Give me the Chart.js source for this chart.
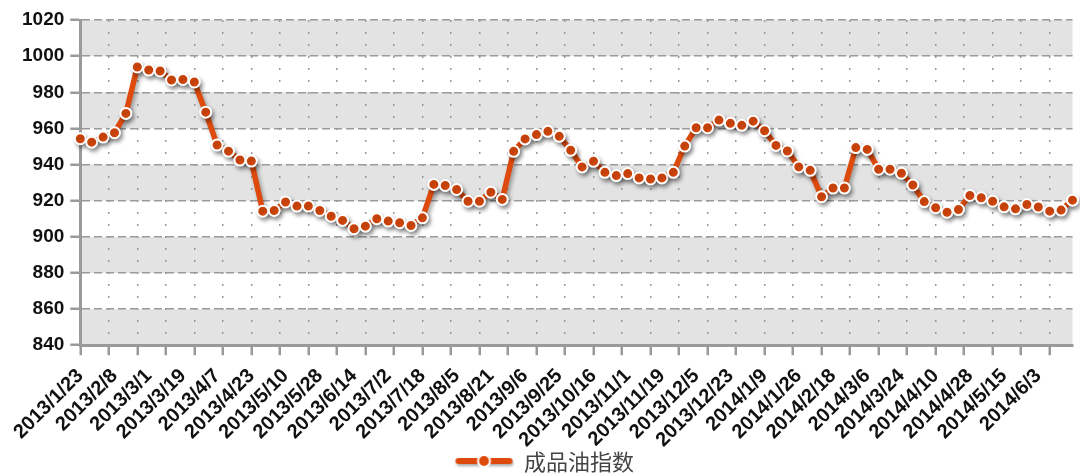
<!DOCTYPE html>
<html>
<head>
<meta charset="utf-8">
<script src="https://cdn.jsdelivr.net/npm/chart.js@4.4.1/dist/chart.umd.min.js"></script>
<style>
html,body{margin:0;padding:0;background:#fff;}
#wrap{width:1080px;height:476px;position:relative;}
</style>
</head>
<body>
<div id="wrap"><canvas id="c"></canvas></div>
<script>
// ---- data ----
const seriesName = '成品油指数';
const tickLabels = ['2013/1/23','2013/2/8','2013/3/1','2013/3/19','2013/4/7','2013/4/23','2013/5/10','2013/5/28','2013/6/14','2013/7/2','2013/7/18','2013/8/5','2013/8/21','2013/9/6','2013/9/25','2013/10/16','2013/11/1','2013/11/19','2013/12/5','2013/12/23','2014/1/9','2014/1/26','2014/2/18','2014/3/6','2014/3/24','2014/4/10','2014/4/28','2014/5/15','2014/6/3'];
const labelEvery = 3;
const values = [954.3,952.4,955.2,957.6,968.3,994.0,992.3,991.8,986.8,987.1,985.7,969.0,950.8,947.4,942.5,941.9,
914.2,914.6,919.3,917.0,917.0,914.6,911.4,909.1,904.5,905.9,910.0,908.7,907.8,906.3,
910.5,929.0,928.4,926.2,919.7,919.7,924.7,920.7,947.3,954.2,956.6,958.4,955.6,947.9,938.7,
941.8,935.7,933.9,935.0,932.6,932.0,932.6,935.7,950.2,960.4,960.4,964.6,962.8,961.7,964.0,
958.7,950.6,947.5,938.7,936.8,922.2,927.0,927.0,949.4,948.4,937.4,937.4,935.2,928.7,919.5,
916.1,913.6,915.1,922.9,921.6,919.7,916.6,915.5,917.9,916.5,914.2,914.8,920.3];
const yMin = 840, yMax = 1020, yStep = 20;
const vGridStep = 2.5;   // vertical dotted grid every 2.5 points

const lineColor = '#dd4a0c';

// legend icon (line + marker)
function makeLegendIcon(){
  const cv = document.createElement('canvas');
  cv.width = 60; cv.height = 22;
  const g = cv.getContext('2d');
  g.shadowColor = 'rgba(0,0,0,0.35)'; g.shadowBlur = 3; g.shadowOffsetX = 1; g.shadowOffsetY = 2;
  g.strokeStyle = lineColor; g.lineWidth = 6; g.lineCap = 'round';
  g.beginPath(); g.moveTo(4, 10); g.lineTo(55, 10); g.stroke();
  g.shadowColor = 'transparent';
  g.beginPath(); g.arc(29.5, 10, 6, 0, Math.PI*2);
  g.fillStyle = lineColor; g.fill();
  g.lineWidth = 2; g.strokeStyle = '#fff'; g.stroke();
  return cv;
}
const legendIcon = makeLegendIcon();

const bandsPlugin = {
  id: 'bands',
  beforeDraw(chart){
    const {ctx, chartArea:a, scales:{y}} = chart;
    ctx.save();
    ctx.fillStyle = '#e3e3e3';
    for (let v = yMin; v < yMax; v += yStep*2){
      const top = y.getPixelForValue(v + yStep), bot = y.getPixelForValue(v);
      ctx.fillRect(a.left, top, a.right - a.left, bot - top);
    }
    ctx.restore();
  }
};
const shadowPlugin = {
  id: 'lineShadow',
  beforeDatasetDraw(chart){
    const c = chart.ctx; c.save();
    c.shadowColor = 'rgba(0,0,0,0.35)'; c.shadowBlur = 4; c.shadowOffsetX = 2; c.shadowOffsetY = 3;
  },
  afterDatasetDraw(chart){ chart.ctx.restore(); }
};

const points = values.map((v,i)=>({x:i, y:v}));
const lastIdx = values.length - 1;

new Chart(document.getElementById('c'), {
  type: 'line',
  data: {
    datasets: [{
      label: seriesName,
      data: points,
      borderColor: lineColor,
      backgroundColor: lineColor,
      borderWidth: 5.5,
      tension: 0,
      pointRadius: 5.5,
      pointBorderWidth: 2,
      pointBorderColor: '#ffffff',
      pointBackgroundColor: lineColor,
      clip: false,
      xAxisID: 'x',
      yAxisID: 'y'
    }]
  },
  options: {
    responsive: true,
    maintainAspectRatio: false,
    animation: false,
    events: [],
    layout: { padding: { left: 16, right: 6, top: 20, bottom: -7 } },
    plugins: {
      tooltip: { enabled: false },
      legend: {
        display: true,
        position: 'bottom',
        labels: {
          usePointStyle: true,
          pointStyleWidth: 57,
          padding: 4,
          color: '#444',
          font: { family: '"Noto Sans CJK SC", "Noto Sans", sans-serif', size: 22 },
          generateLabels(chart){
            return [{ text: seriesName, pointStyle: legendIcon, fillStyle: lineColor, strokeStyle: lineColor, lineWidth: 0, hidden: false, datasetIndex: 0, fontColor: '#444' }];
          }
        }
      }
    },
    scales: {
      xg: {
        type: 'linear', position: 'bottom', weight: 0,
        min: 0, max: lastIdx,
        ticks: { display: false, stepSize: vGridStep, includeBounds: false, autoSkip: false },
        grid: { display: true, color: '#9a9a9a', lineWidth: 1.5, drawTicks: true, tickLength: 10, tickColor: '#9a9a9a', tickWidth: 2.5, tickBorderDash: [] },
        border: { display: true, color: '#9a9a9a', width: 3, dash: [2, 10] }
      },
      x: {
        type: 'linear', position: 'bottom', weight: 1,
        min: 0, max: lastIdx,
        grid: { display: false, drawTicks: false },
        border: { display: false },
        afterFit(scale){ scale.height -= 14; },
        ticks: {
          stepSize: labelEvery, autoSkip: false, includeBounds: false,
          minRotation: 45, maxRotation: 45, padding: 9,
          color: '#111',
          font: { family: '"Liberation Sans", Arial, sans-serif', size: 20, weight: 'bold' },
          callback(v){ const k = v / labelEvery; return (Number.isInteger(k) && tickLabels[k]) ? tickLabels[k] : null; }
        }
      },
      y: {
        type: 'linear', position: 'left',
        min: yMin, max: yMax,
        ticks: { stepSize: yStep, padding: 6, color: '#111',
          font: { family: '"Liberation Sans", Arial, sans-serif', size: 19, weight: 'bold' },
          callback(v){ return String(v); } },
        grid: { display: true, color: '#9a9a9a', lineWidth: 1.5, drawTicks: true, tickLength: 10, tickColor: '#9a9a9a', tickWidth: 2.5, tickBorderDash: [] },
        border: { display: true, color: '#9a9a9a', width: 3, dash: [8, 4] }
      }
    }
  },
  plugins: [bandsPlugin, shadowPlugin]
});
</script>
</body>
</html>
